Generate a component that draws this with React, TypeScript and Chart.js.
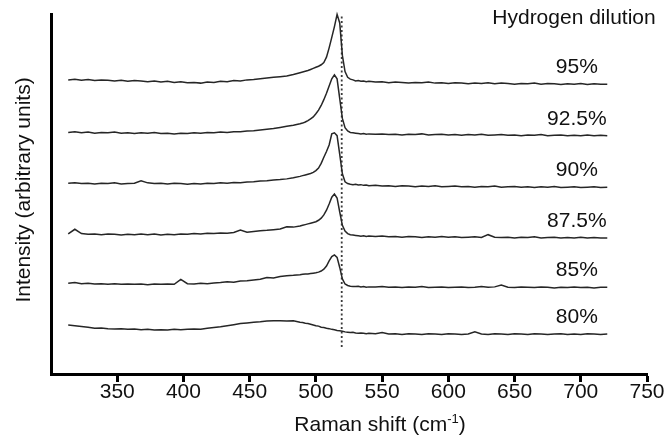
import React, { useEffect, useRef } from "react";
import { Chart, registerables } from "chart.js";

Chart.register(...registerables);

// ---- data ----
const ramanShift = [
  313, 318, 323, 328, 333, 338, 343, 348, 353, 358,
  363, 368, 373, 378, 383, 388, 393, 398, 403, 408,
  413, 418, 423, 428, 433, 438, 443, 448, 453, 458,
  463, 468, 473, 478, 483, 488,
  490, 492, 494, 496, 498, 500, 502, 504, 506, 508,
  510, 512, 514, 516, 518, 520, 522, 524, 526, 528,
  530, 532, 534, 536, 538, 540,
  545, 550, 555, 560, 565, 570, 575, 580, 585, 590,
  595, 600, 605, 610, 615, 620, 625, 630, 635, 640,
  645, 650, 655, 660, 665, 670, 675, 680, 685, 690,
  695, 700, 705, 710, 715, 720,
];

const dilution95 = [
  81.7, 81.9, 81.6, 81.8, 81.5, 81.7, 81.6, 81.4, 81.6, 81.3,
  81.5, 81.4, 81.2, 81.4, 81.1, 81.3, 81.0, 81.2, 80.9, 81.0,
  80.8, 81.1, 81.0, 81.3, 81.2, 81.5, 81.4, 81.7, 81.8, 82.0,
  82.2, 82.4, 82.6, 82.8, 83.2, 83.7,
  83.9, 84.1, 84.3, 84.6, 84.9, 85.2, 85.5, 85.9, 86.5, 88.0,
  90.6, 93.5, 96.5, 99.9, 97.5, 88.5, 84.0, 82.4, 81.9, 81.7,
  81.4, 81.5, 81.3, 81.4, 81.2, 81.3,
  81.1, 81.2, 80.9, 81.1, 81.0, 80.8, 81.0, 80.9, 81.1, 80.8,
  80.9, 80.7, 80.9, 80.8, 80.6, 80.8, 80.7, 80.9, 80.6, 80.8,
  80.7, 80.5, 80.7, 80.6, 80.8, 80.5, 80.7, 80.6, 80.4, 80.6,
  80.5, 80.7, 80.4, 80.6, 80.5, 80.5,
];

const dilution925 = [
  67.1, 67.3, 67.0, 67.2, 66.9, 67.1, 67.0, 67.2, 66.9, 67.0,
  66.8, 67.0, 66.9, 67.1, 66.8, 66.9, 66.7, 66.9, 66.8, 67.0,
  66.9, 67.1, 67.0, 67.2, 67.1, 67.3, 67.3, 67.5, 67.6, 67.8,
  68.0, 68.2, 68.5, 68.8, 69.1, 69.5,
  69.7, 70.0, 70.4, 70.9, 71.4, 72.3, 73.3, 74.6, 76.2, 78.0,
  80.0, 82.0, 83.1, 82.0, 76.5, 71.0, 68.4, 67.5, 67.1, 67.0,
  66.9, 66.8, 66.7, 66.8, 66.6, 66.7,
  66.6, 66.7, 66.5, 66.6, 66.4, 66.6, 66.5, 66.7, 66.4, 66.5,
  66.6, 66.4, 66.5, 66.3, 66.5, 66.4, 66.6, 66.3, 66.4, 66.5,
  66.3, 66.4, 66.2, 66.4, 66.3, 66.5, 66.2, 66.3, 66.4, 66.2,
  66.3, 66.2, 66.4, 66.2, 66.3, 66.2,
];

const dilution90 = [
  53.0, 53.1, 52.9, 53.0, 52.8, 53.0, 52.9, 53.1, 52.8, 52.9,
  53.0, 53.7, 53.1, 52.9, 53.0, 52.8, 53.0, 52.9, 52.7, 52.9,
  52.8, 53.0, 52.9, 53.1, 53.0, 53.2, 53.1, 53.3, 53.4, 53.6,
  53.7, 53.9, 54.0, 54.2, 54.5, 54.9,
  55.1, 55.3, 55.5, 55.7, 56.0, 56.5, 57.2, 58.5, 60.2, 61.8,
  63.6, 66.7, 67.0, 66.2, 61.0, 55.6, 53.4, 52.9, 52.7, 52.6,
  52.7, 52.5, 52.6, 52.4, 52.5, 52.3,
  52.4, 52.2, 52.3, 52.1, 52.3, 52.2, 52.0, 52.2, 52.1, 52.3,
  52.0, 52.1, 52.2, 52.0, 52.1, 51.9, 52.1, 52.0, 52.2, 51.9,
  52.0, 52.1, 51.9, 52.0, 51.8, 52.0, 51.9, 52.1, 51.8, 51.9,
  52.0, 51.8, 51.9, 52.0, 51.8, 51.9,
];

const dilution875 = [
  38.9, 40.2, 39.0, 38.8, 38.9, 38.7, 38.9, 38.8, 38.6, 38.8,
  38.7, 38.9, 38.7, 38.9, 38.6, 38.8, 38.7, 38.9, 38.8, 39.0,
  38.9, 39.1, 39.0, 39.2, 39.1, 39.3, 40.0, 39.4, 39.6, 39.8,
  39.9, 40.1, 40.3, 40.9, 40.8, 41.1,
  41.3, 41.5, 41.7, 41.9, 42.1, 42.3, 42.7, 43.3, 44.2, 45.5,
  47.2, 49.1, 50.0, 48.9, 45.0, 41.3, 39.7, 39.0, 38.7, 38.6,
  38.5, 38.4, 38.3, 38.4, 38.2, 38.3,
  38.2, 38.3, 38.1, 38.2, 38.0, 38.2, 38.1, 37.9, 38.1, 38.0,
  38.2, 38.0, 38.1, 37.9, 38.0, 38.1, 37.9, 38.7, 38.0, 37.9,
  38.0, 37.8, 38.0, 37.9, 38.1, 37.8, 37.9, 38.0, 37.8, 37.9,
  37.8, 38.0, 37.8, 37.9, 37.8, 37.8,
];

const dilution85 = [
  25.2, 25.4, 25.1, 25.2, 25.0, 25.1, 24.9, 25.1, 24.9, 25.0,
  24.9, 25.0, 24.8, 25.0, 24.9, 25.0, 24.9, 26.3, 25.1, 25.0,
  25.2, 25.1, 25.3, 25.4, 25.6, 25.5, 25.8, 25.9, 26.1, 26.3,
  26.8, 26.7, 27.1, 27.3, 27.4, 27.6,
  27.7, 27.8, 27.8, 27.9, 28.0, 28.1, 28.3, 28.6, 29.1, 30.0,
  31.4, 32.6, 33.1, 32.4, 29.6, 26.4, 25.0, 24.6, 24.4, 24.3,
  24.3, 24.4, 24.2, 24.3, 24.1, 24.2,
  24.2, 24.3, 24.1, 24.2, 24.0, 24.2, 24.1, 24.3, 24.0, 24.1,
  24.2, 24.0, 24.1, 24.2, 24.0, 24.1, 24.3, 24.1, 24.2, 24.7,
  24.1, 24.0, 24.2, 24.1, 24.0, 24.2, 24.1, 23.9, 24.1, 24.0,
  24.2, 24.0, 24.1, 23.9, 24.1, 24.1,
];

const dilution80 = [
  13.6, 13.4, 13.2, 13.0, 12.7, 12.8, 12.6, 12.5, 12.6, 12.4,
  12.5, 12.3, 12.4, 12.2, 12.3, 12.2, 12.4, 12.3, 12.4, 12.5,
  12.4, 12.7, 12.9, 13.1, 13.4, 13.7, 14.0, 14.2, 14.4, 14.5,
  14.7, 14.8, 14.8, 14.7, 14.8, 14.4,
  14.3, 14.1, 14.0, 13.8, 13.6, 13.4, 13.3, 13.0, 12.9, 12.7,
  12.6, 12.4, 12.3, 12.1, 12.0, 11.9, 11.7, 11.6, 11.5, 11.6,
  11.4, 11.3, 11.4, 11.3, 11.2, 11.3,
  11.2, 11.5, 11.1, 11.2, 11.0, 11.2, 11.1, 11.0, 11.2, 11.1,
  11.0, 11.2, 11.1, 11.0, 11.1, 11.7, 11.1, 11.0, 11.2, 11.1,
  11.0, 11.2, 11.1, 11.0, 11.2, 11.1, 11.0, 11.1, 11.2, 11.0,
  11.1, 11.0, 11.2, 11.1, 11.0, 11.1,
];

const dilutionLabels = ["95%", "92.5%", "90%", "87.5%", "85%", "80%"];
const seriesValues = [dilution95, dilution925, dilution90, dilution875, dilution85, dilution80];

const siPeakShift = 519.5;
const siPeakLineRange = [7.5, 100];

const xTickRange = [300, 750];
const xTickStep = 50;

// ---- styles ----
const FONT = "'Liberation Sans', Arial, Helvetica, sans-serif";
const FONT_SIZE = 21;
const TEXT_COLOR = "#111111";
const LINE_COLOR = "#262626";

const textPlugin = {
  id: "ramanText",
  afterDatasetsDraw(chart: any) {
    const { ctx } = chart;
    const xs = chart.scales.x;
    const ys = chart.scales.y;
    ctx.save();
    ctx.fillStyle = TEXT_COLOR;
    ctx.font = `${FONT_SIZE}px ${FONT}`;
    ctx.textBaseline = "alphabetic";
    ctx.textAlign = "center";
    // series labels
    seriesValues.forEach((vals, i) => {
      const last = vals[vals.length - 1];
      ctx.fillText(dilutionLabels[i], xs.getPixelForValue(697), ys.getPixelForValue(last) - 11);
    });
    // heading
    ctx.fillText("Hydrogen dilution", 574, 24);
    // y axis title
    ctx.save();
    ctx.translate(30, 190);
    ctx.rotate(-Math.PI / 2);
    ctx.fillText("Intensity (arbitrary units)", 0, 0);
    ctx.restore();
    // x axis title with superscript
    const main = "Raman shift (cm";
    const sup = "-1";
    const close = ")";
    ctx.font = `${FONT_SIZE}px ${FONT}`;
    const w1 = ctx.measureText(main).width;
    const w3 = ctx.measureText(close).width;
    ctx.font = `13px ${FONT}`;
    const w2 = ctx.measureText(sup).width;
    const total = w1 + w2 + w3;
    const cx = 380;
    const base = 431;
    const x0 = cx - total / 2;
    ctx.textAlign = "left";
    ctx.font = `${FONT_SIZE}px ${FONT}`;
    ctx.fillText(main, x0, base);
    ctx.font = `13px ${FONT}`;
    ctx.fillText(sup, x0 + w1, base - 8);
    ctx.font = `${FONT_SIZE}px ${FONT}`;
    ctx.fillText(close, x0 + w1 + w2, base);
    ctx.restore();
  },
};

export default function App() {
  const canvasRef = useRef<HTMLCanvasElement | null>(null);

  useEffect(() => {
    if (!canvasRef.current) return;
    const traceSets = seriesValues.map((vals, i) => ({
      label: dilutionLabels[i],
      data: ramanShift.map((x, k) => ({ x, y: vals[k] })),
      borderColor: LINE_COLOR,
      borderWidth: 1.5,
      pointRadius: 0,
      tension: 0,
      fill: false,
    }));
    const siLine = {
      label: "Si peak",
      data: siPeakLineRange.map((y) => ({ x: siPeakShift, y })),
      borderColor: "#3a3a3a",
      borderWidth: 1.8,
      borderDash: [2, 2.5],
      pointRadius: 0,
      fill: false,
    };
    const chart = new Chart(canvasRef.current, {
      type: "line",
      data: { datasets: [...traceSets, siLine] },
      options: {
        animation: false,
        responsive: false,
        maintainAspectRatio: false,
        clip: false as any,
        layout: { padding: { top: 14, right: 22, bottom: 0, left: 0 } },
        plugins: { legend: { display: false }, tooltip: { enabled: false } },
        scales: {
          x: {
            type: "linear",
            min: xTickRange[0],
            max: xTickRange[1],
            afterBuildTicks: (scale: any) => {
              scale.ticks = scale.ticks.filter((t: any) => t.value !== xTickRange[0]);
            },
            afterFit: (scale: any) => {
              scale.height = 68;
            },
            ticks: {
              stepSize: xTickStep,
              autoSkip: false,
              maxRotation: 0,
              padding: 0,
              color: TEXT_COLOR,
              font: { size: FONT_SIZE, family: FONT, lineHeight: 1 },
            },
            grid: {
              display: true,
              drawOnChartArea: false,
              drawTicks: true,
              tickLength: 8,
              tickWidth: 3,
              tickColor: "#000",
            },
            border: { display: true, color: "#000", width: 3 },
          },
          y: {
            type: "linear",
            min: 0,
            max: 100,
            afterFit: (scale: any) => {
              scale.width = 51;
            },
            ticks: { display: false },
            grid: { display: false, drawTicks: false },
            border: { display: true, color: "#000", width: 3 },
            title: { display: false },
          },
        },
      },
      plugins: [textPlugin],
    });
    return () => chart.destroy();
  }, []);

  return (
    <div style={{ position: "absolute", left: 0, top: 0, width: 669, height: 442, background: "#fff" }}>
      <canvas ref={canvasRef} width={669} height={442} style={{ display: "block" }} />
    </div>
  );
}
